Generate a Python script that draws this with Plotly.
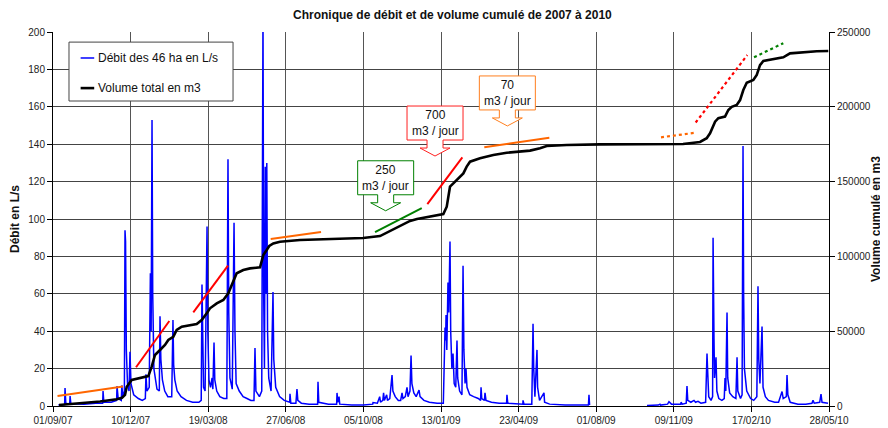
import pandas as pd
import plotly.graph_objects as go

DEBUT = "2007-09-01"
FIN = "2010-05-28"
NB_JOURS = 1000  # 01/09/07 -> 28/05/10

# ---- Débit des 46 ha (L/s) : jours depuis le 01/09/07 ----
debit_jours = [
    7, 15, 15.5, 16.5, 21.5, 22, 23, 40, 55, 64, 64.5, 65.5, 75, 82, 82.5, 84, 88, 88.7, 90, 92,
    92.8, 93.5, 94.5, 96, 98, 99.2, 100.5, 104, 110, 115, 119, 119.8, 121, 124, 125.5, 126.5, 127.6, 128.5, 130, 132,
    134, 137, 137.9, 139, 141, 144, 148, 153, 154.6, 155.5, 157, 160, 165, 172, 180, 188, 191, 192, 193, 194,
    196, 198.5, 199.5, 201, 203, 205, 206, 207.5, 208.5, 211, 215, 220, 224, 225.5, 226.5, 228, 231, 233.3, 234.5, 236,
    240, 245, 250, 255, 259, 260.3, 261.5, 266, 269, 270.6, 271.5, 272.5, 273.5, 274.5, 275.5, 276.5, 278, 281, 283.5, 284.5,
    287, 292, 298, 305, 305.4, 306.5, 313, 314.4, 315.5, 320, 330, 341, 341.5, 342.5, 355, 365.5, 366, 367, 368.6, 369.5,
    385, 400, 412, 412.4, 418, 421, 422, 425, 426, 427, 430, 431, 434, 436.9, 438, 441, 445, 448, 449.8, 451,
    454, 456.2, 457.5, 460, 461.4, 462.5, 465, 468, 471.7, 473, 478, 485, 495, 503, 505.2, 506, 506.5, 507.5, 509, 510,
    511.6, 512.5, 514, 515.5, 517, 519, 520.6, 521.5, 524, 527, 528.4, 529.5, 531, 532.2, 533.5, 537, 542, 548, 551, 551.6,
    552.5, 556, 556.7, 558, 565, 575, 584.5, 585, 586, 600, 605.5, 605.7, 607, 617, 618.6, 619.5, 621, 623.7, 624.5, 627,
    632.7, 633.5, 640, 660, 680, 690, 690.7, 691.5, 728, 765.5, 780, 782.2, 783, 792, 793.8, 797, 809, 809.3, 811, 816,
    817, 818, 822, 826, 828, 831.2, 835, 841, 842.8, 843.5, 845, 848, 850, 850.6, 851.2, 851.8, 852.5, 854.4, 855.5, 858,
    862, 865, 866, 867, 868.6, 869.5, 872, 876, 880, 881.5, 882.5, 886, 888, 889.2, 890, 891, 894, 899, 903, 907,
    908.5, 909.5, 911, 913.7, 915, 918, 922, 930, 935, 937, 939.5, 941, 945, 945.9, 947, 950, 960, 970, 978, 979.4,
    981, 988, 989.7, 991, 998.7,
]
debit_ls = [
    0.5, 0.8, 9.6, 1.5, 1, 5.3, 1.2, 1, 1.5, 1.5, 8, 2, 2, 3, 10.7, 4, 3, 11, 5, 8,
    94, 88, 30, 12, 8, 29, 12, 6, 4, 3, 4, 17, 8, 10, 71, 40, 153, 60, 20, 14,
    9, 8, 48, 25, 14, 8, 5, 5, 46, 22, 14, 8, 5, 3, 2, 2, 3, 65, 27, 10,
    8, 96, 40, 14, 10, 15, 9, 34, 14, 8, 5, 4, 4, 132, 50, 15, 9, 98, 40, 12,
    8, 5, 4, 3, 3, 31, 8, 5, 8, 210, 60, 20, 128, 60, 130, 40, 15, 8, 61, 25,
    10, 5, 3, 2, 6.5, 1.5, 1.5, 9, 3, 1.5, 1, 1, 13, 2, 1, 1, 7, 2, 5, 1,
    0.5, 0.5, 1, 1.8, 1.5, 5, 2, 3, 7, 3, 6, 3, 4, 16.6, 8, 5, 3, 3, 7, 4,
    5, 10, 5, 8, 27, 12, 7, 5, 8.5, 5, 3, 2, 1.5, 1.5, 42, 35, 48.6, 30, 66, 50,
    88, 40, 20, 28, 12, 10, 35, 15, 8, 6, 75, 30, 12, 20, 10, 6, 5, 4, 3, 10,
    4, 3, 7, 3, 2, 1.5, 1.5, 6, 1.5, 1, 1, 3, 1, 1, 44, 20, 5, 30, 10, 3,
    7, 2, 1, 0.5, 0.5, 0.5, 6, 0.5, None, 0.3, 0.5, 1, 0.5, 1, 2.3, 1, 1, 2, 1, 1.5,
    10.7, 3, 2, 3, 2, 2.5, 1.5, 2, 28, 20, 5, 3, 5, 90, 40, 36, 15, 26, 8, 4,
    3, 4, 15, 8, 50, 15, 7, 5, 4, 26, 8, 4, 6, 139, 60, 20, 8, 4, 3, 5,
    64, 25, 12, 42.5, 10, 5, 3, 2, 2, 5, 7.7, 4, 5, 16.6, 6, 2, 1, 1, 1.5, 3,
    1.5, 2, 6.4, 2, 1.5,
]

# ---- Volume total cumulé (m3) ----
vol_jours = [
    7.7, 34.8, 60.6, 82.1, 88.9, 92.8, 95, 101.4, 112.1, 122.8, 127.2, 131.4, 137.9, 144.3, 148.6, 155, 159.4, 165.9,
    185.2, 191.6, 198.1, 202.3, 211, 219.5, 225.9, 230.3, 236.7, 245.2, 253.9, 266.8, 271, 275.4, 278.7, 283.9, 292.5,
    318.3, 357, 399.5, 421.4, 434.3, 447.2, 460.1, 469.1, 498.7, 503, 507.4, 511.6, 515.9, 524.5, 528.8, 533.1, 537.4,
    550.3, 567.4, 584.7, 614.7, 627.6, 636.2, 662, 704.9, 811.9, 833.8, 842.4, 846.7, 853.2, 857.4, 866, 870.3, 874.7,
    881.1, 885.4, 889.6, 894, 902.5, 906.9, 911.1, 915.4, 932.6, 941.1, 949.8, 962.7, 984.2, 999.1,
]
vol_m3 = [
    700, 1800, 3000, 4500, 5500, 7400, 12900, 17400, 18900, 20000, 26300, 34100, 37400, 40800, 44100, 46300, 50800, 53000,
    54800, 57500, 62000, 65300, 68600, 70900, 75300, 80900, 88700, 90900, 92000, 92700, 100900, 104300, 107000, 108700, 109800,
    111000, 111600, 112300, 113600, 117000, 120300, 123700, 125000, 128000, 128300, 133200, 146600, 148800, 153300, 155500, 160000, 163300,
    165600, 167800, 169300, 170700, 172300, 173800, 174500, 174900, 175100, 176500, 179000, 182300, 190100, 192400, 193500, 197900, 200000,
    201200, 204500, 211200, 216100, 217900, 221300, 227900, 230600, 232000, 233100, 235700, 236400, 237100, 237300,
]

# ---- Droites de tendance (m3/jour) ----
tend_j0 = [5.8, 107, 180.8, 280.5, 415, 482.4, 555.8, 783.5, 828.2, 903.4]
tend_v0 = [6700, 25900, 62600, 111600, 116300, 135000, 172900, 179600, 189500, 233100]
tend_j1 = [90.2, 149.9, 225.5, 345.4, 475.2, 527.5, 639.6, 828.2, 894.7, 941.1]
tend_v1 = [13000, 56800, 93900, 116300, 132200, 166200, 179300, 182700, 234600, 242500]
tend_couleur = ["#FF6600", "#FF0000", "#FF0000", "#FF6600", "#008000", "#FF0000", "#FF6600",
                "#FF6600", "#FF0000", "#008000"]
tend_style = ["solid"] * 7 + ["dot"] * 3

# ---- Bulles ----
bulle_texte = ["250<br>m3 / jour", "700<br>m3 / jour", "70<br>m3 / jour"]
bulle_jour = [428.7, 492.3, 585.5]
bulle_vol = [130500, 167100, 187200]
bulle_couleur = ["#008000", "#FF2020", "#FF7F1F"]

VOL_MAX = 250000
FONT = "Liberation Sans, Arial, sans-serif"

t0 = pd.Timestamp(DEBUT)


def jour_date(j):
    return t0 + pd.Timedelta(days=j)


fig = go.Figure()

fig.add_trace(go.Scatter(
    x=[jour_date(j) for j in debit_jours], y=debit_ls, mode="lines",
    line=dict(color="#0000FF", width=1.5), connectgaps=False,
    name="Débit des 46 ha en L/s", showlegend=False, yaxis="y"))

fig.add_trace(go.Scatter(
    x=[jour_date(j) for j in vol_jours], y=vol_m3, mode="lines",
    line=dict(color="#000000", width=2.6),
    name="Volume total en m3", showlegend=False, yaxis="y2"))

for j0, v0, j1, v1, c, s in zip(tend_j0, tend_v0, tend_j1, tend_v1, tend_couleur, tend_style):
    fig.add_trace(go.Scatter(
        x=[jour_date(j0), jour_date(j1)], y=[v0, v1], mode="lines",
        line=dict(color=c, width=2 if s == "solid" else 2.2, dash=s),
        showlegend=False, hoverinfo="skip", yaxis="y2"))

shapes = []
annotations = []

# bulles (rectangle + flèche), dessinées en pixels autour de la pointe
bulle_path = ("M -28,16 L -8,16 L -8,8 L -15,8 L 0,0 L 15,8 L 8,8 L 8,16 "
              "L 28,16 L 28,50 L -28,50 Z")
for txt, j, v, c in zip(bulle_texte, bulle_jour, bulle_vol, bulle_couleur):
    shapes.append(dict(type="path", xref="paper", yref="paper",
                       xsizemode="pixel", ysizemode="pixel",
                       xanchor=j / NB_JOURS, yanchor=v / VOL_MAX,
                       path=bulle_path, line=dict(color=c, width=1),
                       fillcolor="white", layer="above"))
    annotations.append(dict(xref="paper", yref="paper", x=j / NB_JOURS, y=v / VOL_MAX,
                            yshift=33, text=txt, showarrow=False,
                            font=dict(family=FONT, size=12, color="#111111"),
                            xanchor="center", yanchor="middle"))

# légende
shapes.append(dict(type="rect", xref="paper", yref="paper",
                   x0=0.0206, x1=0.232, y0=0.8155, y1=0.973,
                   line=dict(color="#444444", width=1), fillcolor="white", layer="above"))
leg_txt = ["Débit des 46 ha en L/s", "Volume total en m3"]
leg_col = ["#0000FF", "#000000"]
leg_w = [1.5, 2.6]
leg_y = [0.9305, 0.850]
for t, c, w, yy in zip(leg_txt, leg_col, leg_w, leg_y):
    shapes.append(dict(type="line", xref="paper", yref="paper",
                       x0=0.0356, x1=0.0531, y0=yy, y1=yy,
                       line=dict(color=c, width=w), layer="above"))
    annotations.append(dict(xref="paper", yref="paper", x=0.0560, y=yy, text=t,
                            showarrow=False, xanchor="left", yanchor="middle",
                            font=dict(family=FONT, size=12, color="#111111")))

# titre de l'axe de droite
annotations.append(dict(xref="paper", yref="paper", x=1, y=0.5, xshift=47,
                        text="<b>Volume cumulé en m3</b>", textangle=-90, showarrow=False,
                        xanchor="center", yanchor="middle",
                        font=dict(family=FONT, size=12, color="#111111")))

# la page ajoute une marge de 8 px en haut et à gauche : figure 880x420
fig.update_layout(
    width=880, height=420,
    margin=dict(l=45, r=59, t=24, b=22, autoexpand=False),
    paper_bgcolor="white", plot_bgcolor="white",
    font=dict(family=FONT, size=10, color="#222222"),
    title=dict(text="Chronique de débit et de volume cumulé de 2007 à 2010",
               x=0.505, xanchor="center", y=0.983, yanchor="middle", yref="container",
               font=dict(family=FONT, size=12, color="#111111", weight="bold")),
    showlegend=False,
    xaxis=dict(type="date", range=[DEBUT, FIN], tick0=DEBUT, dtick=100 * 86400000,
               tickformat="%d/%m/%y", showgrid=True, gridcolor="#555555", gridwidth=1,
               ticks="outside", ticklen=5, tickcolor="#000000", automargin=False,
               showline=True, linecolor="#000000", linewidth=1,
               tickfont=dict(family=FONT, size=10, color="#222222")),
    yaxis=dict(range=[0, 200], dtick=20, showgrid=True, gridcolor="#444444", gridwidth=1,
               zeroline=False, ticks="outside", ticklen=5, tickcolor="#000000",
               showline=True, linecolor="#000000", linewidth=1, automargin=False,
               tickfont=dict(family=FONT, size=10, color="#222222"),
               title=dict(text="Débit en L/s", standoff=8,
                          font=dict(family=FONT, size=12, color="#111111", weight="bold"))),
    yaxis2=dict(range=[0, VOL_MAX], dtick=50000, overlaying="y", side="right",
                showgrid=False, zeroline=False, tickformat="d",
                ticks="outside", ticklen=5, tickcolor="#000000", automargin=False,
                showline=True, linecolor="#000000", linewidth=1,
                tickfont=dict(family=FONT, size=10, color="#222222")),
    shapes=shapes,
    annotations=annotations,
)

fig.write_html("out.html")
